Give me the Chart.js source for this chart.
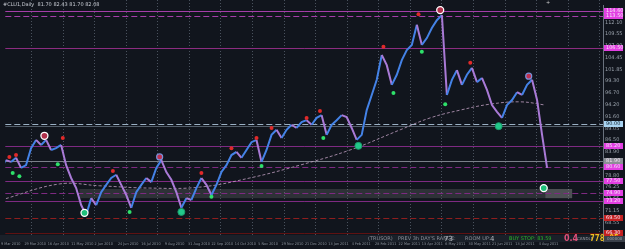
<!DOCTYPE html>
<html>
<head>
<meta charset="utf-8">
<script src="https://cdn.jsdelivr.net/npm/chart.js@4.4.1/dist/chart.umd.min.js"></script>
<style>
  html, body { margin: 0; padding: 0; background: #11151d; }
  canvas { display: block; }
</style>
</head>
<body>
<canvas id="chart" width="625" height="249"></canvas>
<script>
// CLU1 daily closes, one value every 3rd session from 9 Mar 2010
const barStep = 3;
const closes = [
  80.4, 82.1, 81.7, 82.6, 80.4, 81.0, 84.7, 86.5, 85.4, 86.5,
  84.3, 84.7, 85.4, 81.0, 78.2, 76.0, 72.3, 70.1, 73.8, 72.3,
  75.1, 76.7, 78.2, 78.9, 76.7, 74.5, 71.7, 75.1, 76.7, 78.2,
  77.3, 80.4, 82.1, 79.5, 77.8, 75.1, 71.7, 73.8, 73.4, 76.0,
  78.2, 76.7, 74.5, 76.7, 79.5, 81.0, 83.2, 83.9, 82.6, 84.3,
  86.0, 86.5, 81.7, 84.3, 87.6, 88.7, 86.9, 88.7, 89.8, 89.1,
  90.4, 90.8, 89.8, 91.3, 91.9, 87.6, 89.8, 90.8, 91.9, 91.5,
  89.1, 86.5, 87.6, 93.0, 96.3, 99.6, 105.0, 102.8, 98.5, 100.7,
  103.9, 106.1, 107.2, 111.6, 107.2, 108.7, 110.9, 112.6, 113.7, 96.3,
  99.6, 101.7, 98.5, 100.7, 102.2, 99.1, 100.0, 97.4, 94.1, 92.6,
  91.3, 94.1, 95.2, 96.9, 96.3, 98.5, 99.6, 95.2, 87.6, 80.4
];

// moving average (session index, price)
const maBars = [0, 35, 59, 89, 119, 149, 179, 209, 239, 257, 275, 293, 311, 326];
const maVals = [73.4, 76.9, 76.5, 76.0, 76.2, 78.2, 81.0, 84.3, 88.7, 91.3, 93.0, 94.3, 94.8, 94.1];

// fractal highs / lows
const fracHighBars = [5, 9, 37, 67, 120, 138, 153, 162, 183, 191, 229, 250, 281];
const fracHighVals = [82.8, 83.2, 86.9, 79.7, 79.3, 84.7, 86.9, 89.1, 91.3, 92.8, 106.8, 113.9, 103.3];
const fracLowBars = [7, 11, 34, 77, 126, 156, 193, 235, 252, 266];
const fracLowVals = [79.3, 78.6, 81.2, 70.8, 74.1, 80.8, 86.9, 96.7, 105.7, 94.3];

// swing points
const majorHighBars = [26, 263];
const majorHighVals = [87.4, 114.8];
const minorHighBars = [95, 316];
const minorHighVals = [82.8, 100.4];
const majorLowBars = [50, 325];
const majorLowVals = [70.6, 76.0];
const minorLowBars = [108, 214, 298];
const minorLowVals = [70.8, 85.2, 89.5];

// horizontal levels
const levelVals = [114.6, 113.5, 106.5, 90.0, 85.2, 81.9, 80.6, 77.5, 74.9, 73.2, 69.5, 66.3];
const zoneBars = [47, 342];
const zoneVals = [73.8, 75.8];

// axis ticks
const yTicks = [66.00, 68.55, 71.15, 73.65, 76.25, 78.80, 81.35, 83.90, 86.50, 89.05,
  91.60, 94.20, 96.70, 99.30, 101.85, 104.45, 107.00, 109.55, 112.10];
const dateLabels = ['9 Mar 2010', '29 Mar 2010', '16 Apr 2010', '11 May 2010', '2 Jun 2010',
  '24 Jun 2010', '16 Jul 2010', '9 Aug 2010', '31 Aug 2010', '22 Sep 2010', '14 Oct 2010',
  '5 Nov 2010', '29 Nov 2010', '21 Dec 2010', '13 Jan 2011', '4 Feb 2011', '28 Feb 2011',
  '22 Mar 2011', '13 Apr 2011', '6 May 2011', '30 May 2011', '21 Jun 2011', '13 Jul 2011', '4 Aug 2011'];
const dateLabelStep = 14;

// price at the top/bottom window edge, sessions at left/right edge of the plot
const priceTop = 117.0, pricePerPx = 0.218;
const barLeftPx = 1, pxPerBar = 1.67;

const UP = '#4482e6';
const DOWN = '#a97ad6';

const levelStyle = [
  { c: '#a43ea8', d: [], box: '#e23fe2' },
  { c: '#a43ea8', d: [6, 3], box: '#e23fe2' },
  { c: '#8c2c80', d: [], box: '#e23fe2' },
  { c: '#9ab0c4', d: [6, 3], box: '#a9d4f2', txt: '#10202c', extra: '#55606c' },
  { c: '#7e2a82', d: [], box: '#e23fe2' },
  { c: '#7a7f88', d: [], box: '#8c8f96' },
  { c: '#7e2a82', d: [6, 3], box: '#e23fe2' },
  { c: '#7e2a82', d: [], box: '#e23fe2' },
  { c: '#7e2a82', d: [6, 3], box: '#e23fe2' },
  { c: '#7e2a82', d: [], box: '#e23fe2' },
  { c: '#8e1e1e', d: [6, 3], box: '#c42020' },
  { c: '#5e1212', d: [], box: '#c42020' }
];

const pts = (bx, vs) => bx.map((b, i) => ({ x: b, y: vs[i] }));

const backdrop = {
  id: 'backdrop',
  beforeDraw(chart) {
    const { ctx, chartArea: a, scales: { x, y } } = chart;
    ctx.save();
    ctx.fillStyle = '#11151d';
    ctx.fillRect(0, 0, chart.width, chart.height);
    // vertical dotted grid
    ctx.strokeStyle = '#4a525e';
    ctx.lineWidth = 1;
    ctx.setLineDash([1, 2]);
    for (let b = 18; b < 360; b += 18.9) {
      const px = Math.round(x.getPixelForValue(b)) + 0.5;
      ctx.beginPath(); ctx.moveTo(px, 0); ctx.lineTo(px, a.bottom); ctx.stroke();
    }
    // support zone
    ctx.setLineDash([]);
    const zx0 = x.getPixelForValue(zoneBars[0]), zx1 = x.getPixelForValue(zoneBars[1]);
    const zy0 = y.getPixelForValue(zoneVals[1]), zy1 = y.getPixelForValue(zoneVals[0]);
    ctx.fillStyle = 'rgba(150,150,150,0.22)';
    ctx.fillRect(zx0, zy0, zx1 - zx0, zy1 - zy0);
    ctx.fillStyle = 'rgba(170,170,170,0.25)';
    ctx.fillRect(x.getPixelForValue(326), zy0, zx1 - x.getPixelForValue(326), zy1 - zy0);
    // levels
    levelVals.forEach((v, i) => {
      const s = levelStyle[i];
      const py = Math.round(y.getPixelForValue(v)) + 0.5;
      ctx.strokeStyle = s.c;
      ctx.setLineDash(s.d);
      ctx.beginPath(); ctx.moveTo(a.left, py); ctx.lineTo(a.right, py); ctx.stroke();
      if (s.extra) {
        ctx.setLineDash([]);
        ctx.strokeStyle = s.extra;
        ctx.beginPath(); ctx.moveTo(a.left, py + 2); ctx.lineTo(a.right, py + 2); ctx.stroke();
      }
    });
    ctx.restore();
  },
  afterDraw(chart) {
    const { ctx, chartArea: a, scales: { y } } = chart;
    ctx.save();
    // level price boxes on the axis
    ctx.font = '5px "DejaVu Sans"';
    ctx.textBaseline = 'middle';
    levelVals.forEach((v, i) => {
      const s = levelStyle[i];
      const py = Math.round(y.getPixelForValue(v));
      ctx.fillStyle = s.box;
      ctx.fillRect(a.right + 1, py - 3, 19, 6);
      ctx.fillStyle = s.txt || '#f6e6f6';
      ctx.fillText(v.toFixed(2), a.right + 3, py);
    });
    // title
    ctx.fillStyle = '#c8ccd4';
    ctx.font = '5px "DejaVu Sans"';
    ctx.fillText('#CLU1,Daily  81.70 82.43 81.70 82.08', 3, 5);
    ctx.fillStyle = '#d0d0d0';
    ctx.fillText('+', 546, 3);
    // info bar
    ctx.fillStyle = '#1a2029';
    ctx.fillRect(0, 235, a.right, 7);
    ctx.textBaseline = 'middle';
    ctx.font = '5px "DejaVu Sans"';
    ctx.fillStyle = '#8a909a';
    ctx.fillText('(TRUSOR)', 368, 239);
    ctx.fillText("PREV 3h DAY'S RANGE:", 398, 239);
    ctx.fillText('ROOM UP:', 465, 239);
    ctx.fillStyle = '#b0b4bc';
    ctx.font = '7px "DejaVu Sans"';
    ctx.fillText('73', 444, 239);
    ctx.fillText('4', 490, 239);
    ctx.fillStyle = '#28b428';
    ctx.font = '5px "DejaVu Sans"';
    ctx.fillText('BUY STOP: 83.59', 509, 239);
    ctx.fillStyle = '#e0507a';
    ctx.font = 'bold 8px "DejaVu Sans"';
    ctx.fillText('0.4', 564, 239);
    ctx.fillStyle = '#9a9ea6';
    ctx.font = '4px "DejaVu Sans"';
    ctx.fillText('CANDLE', 577, 239);
    ctx.fillStyle = '#f0c020';
    ctx.font = 'bold 8px "DejaVu Sans Mono"';
    ctx.fillText('778:05', 590, 239);
    ctx.fillStyle = '#3a404a';
    ctx.fillRect(a.right + 1, 236, 21, 6);
    ctx.fillStyle = '#9aa0a8';
    ctx.font = '4px "DejaVu Sans"';
    ctx.fillText('000000', a.right + 4, 239);
    ctx.restore();
  }
};

const closePts = closes.map((c, i) => ({ x: i * barStep, y: c }));

const chart = new Chart(document.getElementById('chart'), {
  type: 'line',
  data: {
    datasets: [
      {
        data: closePts,
        borderWidth: 2,
        pointRadius: 0,
        tension: 0,
        segment: { borderColor: c => (c.p1.parsed.y >= c.p0.parsed.y ? UP : DOWN) },
        borderColor: UP,
        order: 2
      },
      {
        data: pts(maBars, maVals),
        borderColor: 'rgba(205,170,205,0.75)',
        borderWidth: 1,
        borderDash: [3, 2],
        pointRadius: 0,
        tension: 0.4,
        order: 3
      },
      { type: 'scatter', data: pts(fracHighBars, fracHighVals), pointRadius: 2, backgroundColor: '#e02a2a', borderWidth: 0, order: 1 },
      { type: 'scatter', data: pts(fracLowBars, fracLowVals), pointRadius: 2, backgroundColor: '#2ee06a', borderWidth: 0, order: 1 },
      { type: 'scatter', data: pts(majorHighBars, majorHighVals), pointRadius: 3.5, backgroundColor: '#b0304a', borderColor: '#ffffff', borderWidth: 1.3, order: 0 },
      { type: 'scatter', data: pts(minorHighBars, minorHighVals), pointRadius: 3, backgroundColor: '#c03050', borderColor: '#7a90d8', borderWidth: 1.2, order: 0 },
      { type: 'scatter', data: pts(majorLowBars, majorLowVals), pointRadius: 3.5, backgroundColor: '#1fc07a', borderColor: '#ffffff', borderWidth: 1.3, order: 0 },
      { type: 'scatter', data: pts(minorLowBars, minorLowVals), pointRadius: 3.5, backgroundColor: '#22c88a', borderColor: '#1a9a6a', borderWidth: 1, order: 0 }
    ]
  },
  options: {
    responsive: false,
    animation: false,
    layout: { padding: 0 },
    plugins: { legend: { display: false }, tooltip: { enabled: false } },
    scales: {
      x: {
        type: 'linear',
        min: -0.6,
        max: 360.5,
        afterBuildTicks: s => { s.ticks = dateLabels.map((_, i) => ({ value: i * dateLabelStep })); },
        afterFit: s => { s.height = 8; s.paddingLeft = 0; s.paddingRight = 0; },
        ticks: {
          callback: v => dateLabels[Math.round(v / dateLabelStep)] || '',
          align: 'start',
          autoSkip: false,
          maxRotation: 0,
          padding: 1,
          color: '#8a929c',
          font: { size: 3.8, family: 'DejaVu Sans Condensed' }
        },
        grid: { display: false, drawTicks: false },
        border: { color: '#5a626e' }
      },
      y: {
        position: 'right',
        min: 64.46,
        max: 117.0,
        afterBuildTicks: s => { s.ticks = yTicks.map(v => ({ value: v })); },
        afterFit: s => { s.width = 22; s.paddingTop = 0; s.paddingBottom = 0; },
        ticks: {
          callback: v => v.toFixed(2),
          padding: 2,
          color: '#9aa2ac',
          font: { size: 5, family: 'DejaVu Sans' }
        },
        grid: { display: false, drawTicks: false },
        border: { color: '#6a727e' }
      }
    }
  }
  ,
  plugins: [backdrop]
});

// fit the scales to the plot box the layout produced
const area = chart.chartArea;
chart.options.scales.y.max = priceTop - area.top * pricePerPx;
chart.options.scales.y.min = priceTop - area.bottom * pricePerPx;
chart.options.scales.x.min = (area.left - barLeftPx) / pxPerBar;
chart.options.scales.x.max = (area.right - barLeftPx) / pxPerBar;
chart.update();
</script>
</body>
</html>
